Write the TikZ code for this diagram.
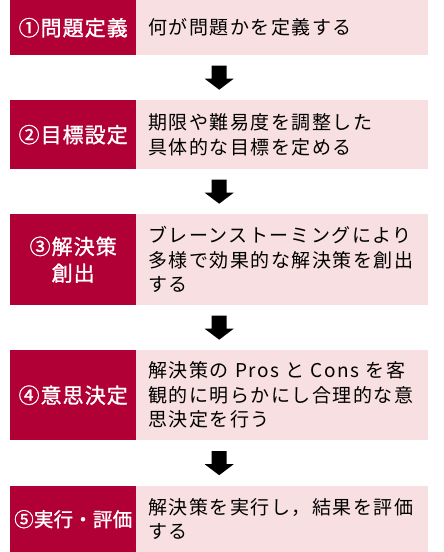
\documentclass[tikz,border=0pt]{standalone}
\usepackage{fontspec}
\usetikzlibrary{calc}
\newfontfamily\jp{Noto Sans CJK JP}[LetterSpace=8]
\newfontfamily\jplab{Noto Sans CJK JP}[FakeBold=1.2, LetterSpace=5]
\newfontfamily\jplabb{Noto Sans CJK JP}[FakeBold=1.2, LetterSpace=1]
\definecolor{stepred}{RGB}{177,0,54}
\definecolor{steppink}{RGB}{248,223,225}
\tikzset{
  labelbox/.style={anchor=north west, fill=stepred, text=white, minimum width=126pt,
    inner sep=0pt, align=center, font=\jplab\fontsize{21}{26.7}\selectfont},
  textbox/.style={anchor=north west, fill=steppink, text=black, text width=268pt,
    inner xsep=12pt, inner ysep=0pt, align=left, font=\jp\fontsize{19}{24.5}\selectfont},
  downarrow/.style={fill=black}
}
\begin{document}
\begin{tikzpicture}[x=1pt,y=-1pt]
\useasboundingbox (0,0) rectangle (444,552);
% step 1
\node[labelbox, minimum height=55pt] (r1) at (10,0) {①問題定義};
\node[textbox, minimum height=55pt] (t1) at (136,0) {何が問題かを定義する};
% step 2
\node[labelbox, minimum height=69pt] (r2) at (10,100) {②目標設定};
\node[textbox, minimum height=69pt] (t2) at (136,100) {期限や難易度を調整した\\具体的な目標を定める};
% step 3
\node[labelbox, minimum height=91pt] (r3) at (10,214) {③解決策\\創出};
\node[textbox, minimum height=91pt] (t3) at (136,214) {ブレーンストーミングにより\\多様で効果的な解決策を創出\\する};
% step 4
\node[labelbox, minimum height=90pt] (r4) at (10,350) {④意思決定};
\node[textbox, minimum height=90pt] (t4) at (136,350) {解決策の Pros と Cons を客\\観的に明らかにし合理的な意\\思決定を行う};
% step 5
\node[labelbox, minimum height=66pt, font=\jplabb\fontsize{19.5}{24}\selectfont] (r5) at (10,486) {⑤実行・評価};
\node[textbox, minimum height=66pt] (t5) at (136,486) {解決策を実行し，結果を評価\\する};
% arrows
\foreach \a/\b in {1/2,2/3,3/4,4/5}{
  \coordinate (a\a) at ($(r\a.south west)!0.5!(t\b.north east)$);
  \fill[downarrow] (a\a) ++(-7.5,-12) -- ++(15,0) -- ++(0,13) -- ++(7,0) -- ++(-14.5,11) -- ++(-14.5,-11) -- ++(7,0) -- cycle;
}
\end{tikzpicture}
\end{document}
